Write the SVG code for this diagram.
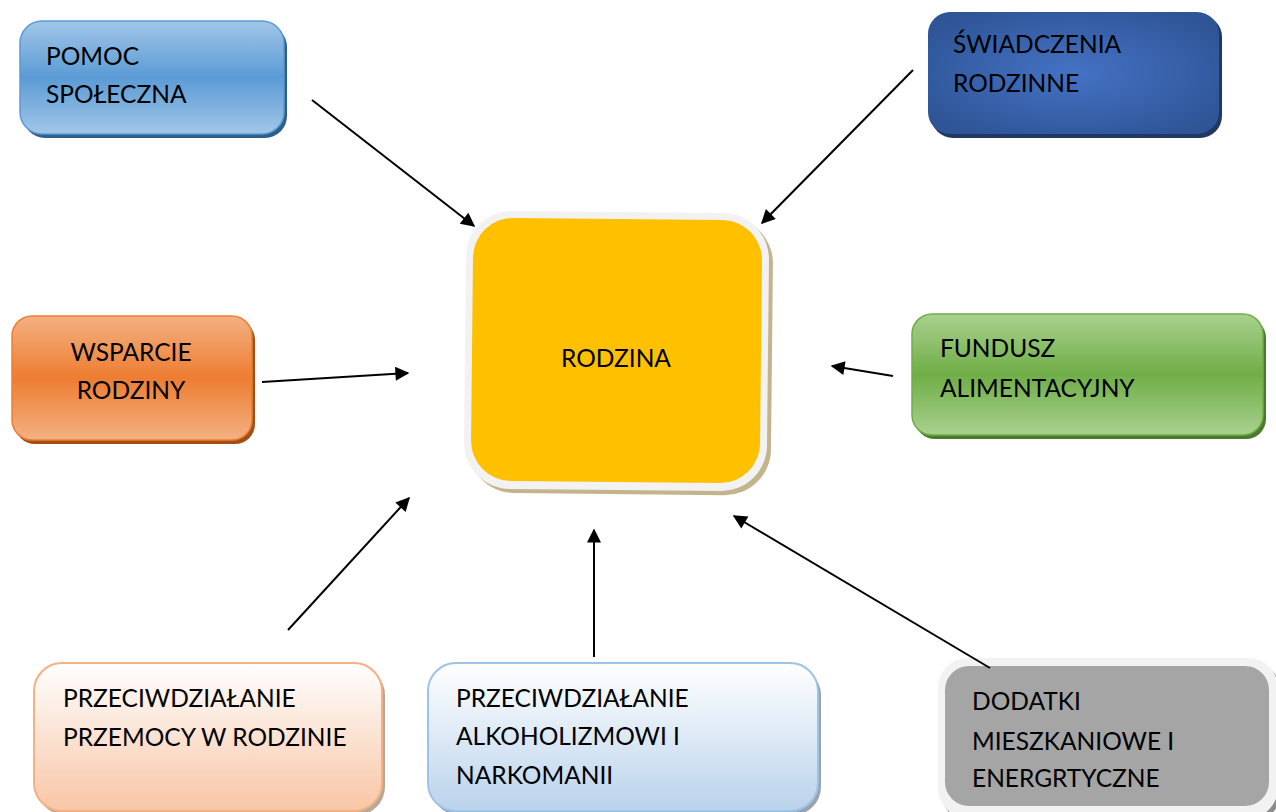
<svg xmlns="http://www.w3.org/2000/svg" width="1276" height="812" viewBox="0 0 1276 812">
<style>
text{font-family:Lato,"Open Sans","Liberation Sans",sans-serif;font-size:24.5px;fill:#000}
.c{stroke:#000;stroke-width:2;fill:none;marker-end:url(#ah)}
</style>
<defs>
<marker id="ah" viewBox="0 0 10 10" refX="9" refY="5" markerWidth="8" markerHeight="7" markerUnits="strokeWidth" orient="auto">
<path d="M0,0 L10,5 L0,10 z" fill="#000"/>
</marker>
<linearGradient id="gBlue" x1="0" y1="0" x2="0" y2="1">
<stop offset="0" stop-color="#a2c6e8"/><stop offset="0.5" stop-color="#5b9bd5"/><stop offset="1" stop-color="#a2c6e8"/>
</linearGradient>
<radialGradient id="gDark" cx="0.5" cy="0.5" r="0.6">
<stop offset="0" stop-color="#4472c4"/><stop offset="1" stop-color="#2f5597"/>
</radialGradient>
<linearGradient id="gOrange" x1="0" y1="0" x2="0" y2="1">
<stop offset="0" stop-color="#f4b183"/><stop offset="0.5" stop-color="#ed7d31"/><stop offset="1" stop-color="#f4b183"/>
</linearGradient>
<linearGradient id="gGreen" x1="0" y1="0" x2="0" y2="1">
<stop offset="0" stop-color="#a9d18e"/><stop offset="0.5" stop-color="#70ad47"/><stop offset="1" stop-color="#a9d18e"/>
</linearGradient>
<linearGradient id="gPeach" x1="0" y1="0" x2="0" y2="1">
<stop offset="0" stop-color="#ffffff"/><stop offset="1" stop-color="#f8c6a6"/>
</linearGradient>
<linearGradient id="gLight" x1="0" y1="0" x2="0" y2="1">
<stop offset="0" stop-color="#ffffff"/><stop offset="1" stop-color="#bad3ec"/>
</linearGradient>
</defs>

<g id="pomoc">
<rect x="23" y="25" width="264" height="113" rx="22" fill="#2e5f8a"/>
<rect x="20" y="21" width="264" height="113" rx="22" fill="url(#gBlue)" stroke="#5b9bd5" stroke-width="1.5"/>
<text x="46" y="65">POMOC</text>
<text x="46" y="103">SPOŁECZNA</text>
</g>

<g id="swiadczenia">
<rect x="931" y="15" width="291" height="123" rx="22" fill="#203864"/>
<rect x="928" y="12" width="291" height="122" rx="22" fill="url(#gDark)"/>
<text x="953" y="53">ŚWIADCZENIA</text>
<text x="953" y="92">RODZINNE</text>
</g>

<g id="rodzina">
<g transform="rotate(0.6 616 351)">
<rect x="469" y="216" width="303" height="278" rx="46" fill="#c3b48b"/>
<rect x="465" y="212" width="303" height="278" rx="46" fill="#f2f2f2"/>
<rect x="472" y="219" width="289" height="263" rx="40" fill="#ffc000"/>
</g>
<text x="616" y="367" text-anchor="middle">RODZINA</text>
</g>

<g id="wsparcie">
<rect x="15" y="320" width="240" height="124" rx="20" fill="#a24f16"/>
<rect x="12" y="316" width="240" height="124" rx="20" fill="url(#gOrange)" stroke="#ed7d31" stroke-width="1.5"/>
<text x="131" y="361" text-anchor="middle">WSPARCIE</text>
<text x="131" y="399" text-anchor="middle">RODZINY</text>
</g>

<g id="fundusz">
<rect x="915" y="318" width="351" height="121" rx="20" fill="#4b7a2e"/>
<rect x="912" y="314" width="351" height="121" rx="20" fill="url(#gGreen)" stroke="#70ad47" stroke-width="1.5"/>
<text x="940" y="357">FUNDUSZ</text>
<text x="940" y="397">ALIMENTACYJNY</text>
</g>

<g id="przemoc">
<rect x="37" y="667" width="348" height="148" rx="28" fill="#b8a898"/>
<rect x="34" y="663" width="348" height="148" rx="28" fill="url(#gPeach)" stroke="#f4b183" stroke-width="2"/>
<text x="63" y="707">PRZECIWDZIAŁANIE</text>
<text x="63" y="746">PRZEMOCY W RODZINIE</text>
</g>

<g id="alkoholizm">
<rect x="431" y="667" width="390" height="148" rx="28" fill="#9aa3ad"/>
<rect x="428" y="663" width="390" height="148" rx="28" fill="url(#gLight)" stroke="#9dc3e6" stroke-width="2"/>
<text x="456" y="707">PRZECIWDZIAŁANIE</text>
<text x="456" y="745">ALKOHOLIZMOWI I</text>
<text x="456" y="784">NARKOMANII</text>
</g>

<g id="dodatki">
<rect x="941" y="662" width="340" height="160" rx="30" fill="#8c8c8c"/>
<rect x="938" y="658" width="340" height="160" rx="30" fill="#f2f2f2"/>
<rect x="945" y="666" width="324" height="140" rx="24" fill="#a5a5a5"/>
<text x="972" y="710">DODATKI</text>
<text x="972" y="750">MIESZKANIOWE I</text>
<text x="972" y="787">ENERGRTYCZNE</text>
</g>

<g id="connectors">
<line class="c" x1="312" y1="100" x2="474" y2="226"/>
<line class="c" x1="913" y1="70" x2="762" y2="223"/>
<line class="c" x1="262" y1="382" x2="408" y2="373"/>
<line class="c" x1="893" y1="376" x2="832" y2="366"/>
<line class="c" x1="288" y1="630" x2="409" y2="498"/>
<line class="c" x1="594" y1="657" x2="594" y2="530"/>
<line class="c" x1="990" y1="668" x2="734" y2="516"/>
</g>
</svg>
